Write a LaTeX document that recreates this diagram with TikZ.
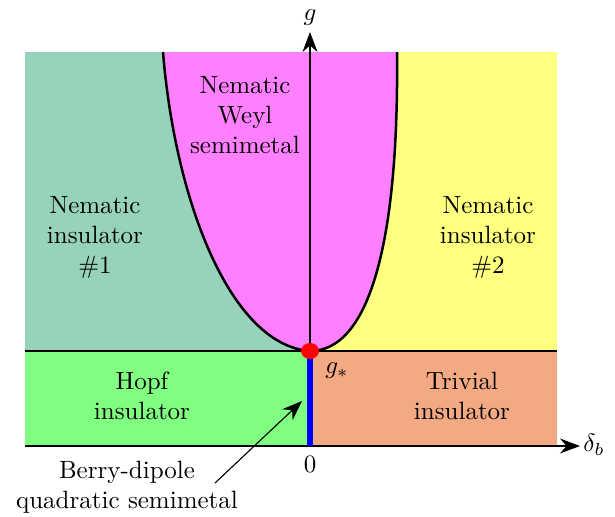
\documentclass[tikz,border=0pt]{standalone}
\usepackage{amsmath,amssymb}
\usepackage{tikz}
\usetikzlibrary{positioning,calc}
\usetikzlibrary{arrows.meta}
\definecolor{NemTeal}{RGB}{151,211,186}
\definecolor{WeylPink}{RGB}{255,128,255}
\definecolor{NemYellow}{RGB}{255,255,128}
\definecolor{HopfGreen}{RGB}{128,255,128}
\definecolor{TrivSalmon}{RGB}{243,169,131}
\tikzset{boundary/.style={draw=black,line width=1pt}, axis/.style={draw=black,line width=0.45pt,-{Stealth[length=8pt,width=6pt]}}, phase/.style={align=center,font=\normalsize}}

\begin{document}
\begin{tikzpicture}[x=0.4pt,y=-0.4pt]
\useasboundingbox (0,0) rectangle (615,516);
\coordinate (gs) at (310,351);
\coordinate (o) at (310,446);
\coordinate (xend) at (580,446);
\coordinate (yend) at (310,32);
\coordinate (ltop) at (163,52);
\coordinate (rtop) at (397,52);
\fill[NemTeal] (25,52) rectangle (gs);
\fill[NemYellow] (310,52) rectangle (557,351);
\fill[HopfGreen] (25,351) rectangle (o);
\fill[TrivSalmon] (gs) rectangle (557,446);
\fill[WeylPink] (ltop) .. controls (175,200) and (230,345) .. (gs) .. controls (370,351) and (399,240) .. (rtop) -- cycle;
\draw[boundary] (gs) .. controls (230,345) and (175,200) .. (ltop);
\draw[boundary] (gs) .. controls (370,351) and (399,240) .. (rtop);
\draw[boundary] (25,351) -- (557,351);
\draw[axis] (25,446) -- (xend);
\draw[axis] (o) -- (yend);
\draw[draw=blue,line width=2.2pt] (gs) -- (o);
\fill[red] (gs) ellipse (9 and 8);
\node (glab) at (310,18) {$g$};
\node (dlab) at (594,445) {$\delta_b$};
\node (zero) at (310,464) {$0$};
\node (gstar) at (337,371) {$g_*$};
\node[phase] (weyl) at (245,115) {Nematic\\Weyl\\semimetal};
\node[phase] (ins1) at (95,237) {Nematic\\insulator\\\#1};
\node[phase] (ins2) at (488,237) {Nematic\\insulator\\\#2};
\node[phase] (hopf) at (142,396) {Hopf\\insulator};
\node[phase] (triv) at (462,396) {Trivial\\insulator};
\node[phase] (berry) at (127,487) {Berry-dipole\\quadratic semimetal};
\coordinate (bstart) at (215,483);
\coordinate (btip) at (302,401);
\draw[line width=0.45pt,-{Stealth[length=8pt,width=6pt]}] (bstart) -- (btip);
\end{tikzpicture}
\end{document}
